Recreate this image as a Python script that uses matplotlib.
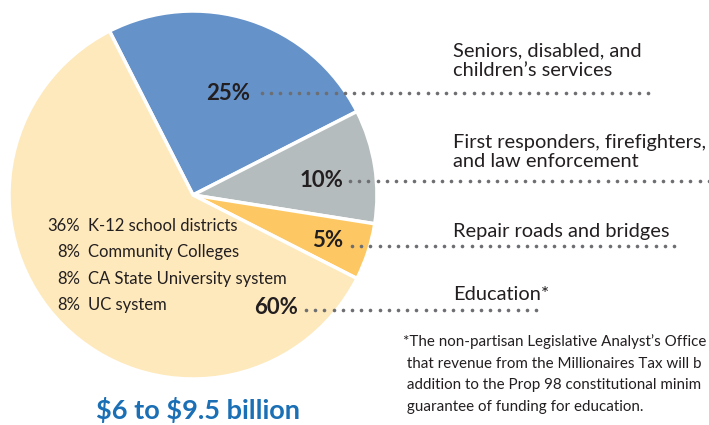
import matplotlib
matplotlib.use('Agg')
import matplotlib.pyplot as plt
import numpy as np

# shares of the revenue, in the order they go clockwise from the top
shares = [25, 10, 5, 60]
share_labels = ['25%', '10%', '5%', '60%']
colors = ['#6592c9', '#b5bcbe', '#fdc863', '#fee9bc']

right_labels = ['Seniors, disabled, and\nchildren\u2019s services',
                'First responders, firefighters,\nand law enforcement',
                'Repair roads and bridges',
                'Education*']

edu_pcts = ['36%', '8%', '8%', '8%']
edu_names = ['K-12 school districts', 'Community Colleges',
             'CA State University system', 'UC system']

# the reference cuts these lines at its right edge
footnote = ['*The non-partisan Legislative Analyst\u2019s Office',
            ' that revenue from the Millionaires Tax will b',
            ' addition to the Prop 98 constitutional minim',
            ' guarantee of funding for education.']

total_label = '\\$6 to \\$9.5 billion'

W, H = 709, 425
FONT = ['Liberation Sans Narrow', 'Lato', 'DejaVu Sans']
TXT = '#231f20'
DOT = '#6d6e71'


def Y(py):
    # pixel row (top down) -> data y
    return H - py


fig = plt.figure(figsize=(W / 100, H / 100), dpi=100)
ax = fig.add_axes([0, 0, 1, 1])
ax.pie(shares, colors=colors, startangle=117, counterclock=False,
       center=(193, Y(195)), radius=184,
       wedgeprops=dict(edgecolor='white', linewidth=2.5))
ax.set_xlim(0, W)
ax.set_ylim(0, H)
ax.set_aspect('auto')
ax.axis('off')

# percent labels with dotted leaders
pct_pos = [(250, 93), (343, 180), (343, 240), (298, 308)]
lead = [(262, 650, 93), (350, 709, 181), (352, 680, 246), (306, 545, 310)]
for lab, (px, py), (x0, x1, ly) in zip(share_labels, pct_pos, lead):
    ax.text(px, Y(py), lab, ha='right', va='center', fontsize=16,
            fontweight='bold', color=TXT, family=FONT)
    xs = np.arange(x0, x1, 9.2)
    ax.plot(xs, [Y(ly)] * len(xs), ls='none', marker='o', ms=2.6,
            color=DOT, mec='none')

right_y = [61, 152, 231, 294]
for lab, py in zip(right_labels, right_y):
    ax.text(453, Y(py), lab, ha='left', va='center', fontsize=14.4,
            color=TXT, family=FONT, linespacing=1.18)

for i, (p, n) in enumerate(zip(edu_pcts, edu_names)):
    py = 226 + i * 26.3
    ax.text(80, Y(py), p, ha='right', va='center', fontsize=12,
            color=TXT, family=FONT)
    ax.text(88, Y(py), n, ha='left', va='center', fontsize=12,
            color=TXT, family=FONT)

for i, line in enumerate(footnote):
    ax.text(403, Y(342 + i * 21.5), line, ha='left', va='center',
            fontsize=10.9, color=TXT, family=FONT)

ax.text(198, Y(410), total_label, ha='center', va='center', fontsize=19.5,
        fontweight='bold', color='#1a6fb5', family=FONT)

fig.savefig('out.png', dpi=100)
